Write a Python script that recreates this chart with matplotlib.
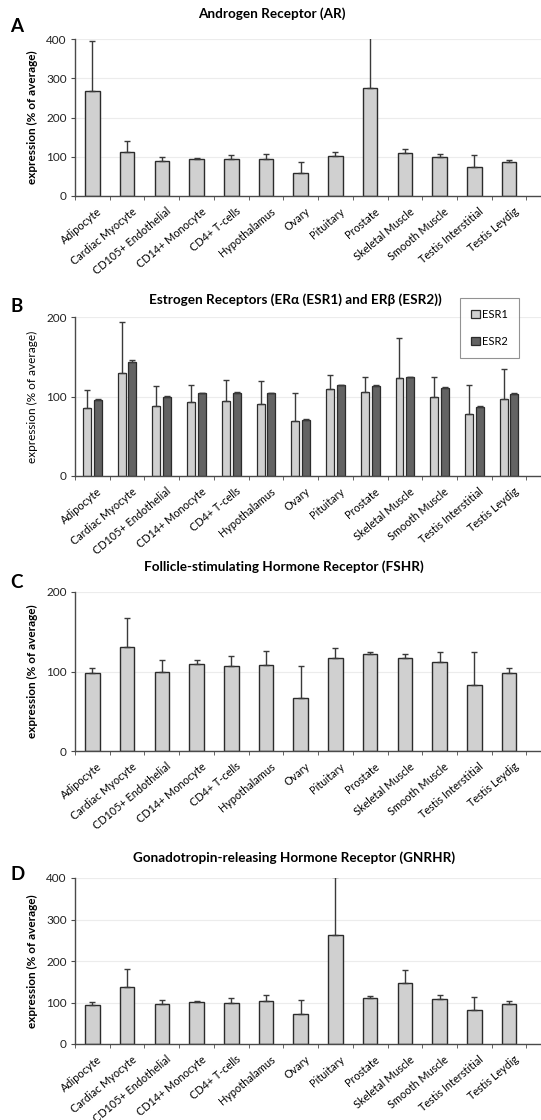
import numpy as np
import matplotlib
matplotlib.use('Agg')
import matplotlib.pyplot as plt

plt.rcParams['font.family'] = ['Lato', 'DejaVu Sans']

cells = ['Adipocyte', 'Cardiac Myocyte', 'CD105+ Endothelial', 'CD14+ Monocyte',
         'CD4+ T-cells', 'Hypothalamus', 'Ovary', 'Pituitary', 'Prostate',
         'Skeletal Muscle', 'Smooth Muscle', 'Testis Interstitial', 'Testis Leydig']

# A: androgen receptor
ar_mean = [267, 113, 88, 93, 93, 95, 59, 102, 276, 109, 99, 75, 87]
ar_err = [129, 26, 11, 4, 11, 13, 27, 11, 160, 12, 8, 29, 5]

# B: estrogen receptors
esr1_mean = [86, 130, 88, 93, 94, 91, 69, 109, 106, 123, 99, 78, 97]
esr1_err = [22, 64, 25, 22, 27, 29, 36, 18, 18, 51, 26, 36, 37]
esr2_mean = [96, 143, 100, 104, 105, 104, 71, 114, 113, 124, 111, 87, 103]
esr2_err = [1, 3, 1, 1, 1, 1, 1, 1, 1, 1, 1, 1, 1]

# C: FSHR
fshr_mean = [98, 131, 99, 109, 107, 108, 67, 117, 122, 117, 112, 83, 98]
fshr_err = [7, 36, 16, 6, 12, 18, 40, 13, 2, 5, 13, 42, 7]

# D: GNRHR
gnrhr_mean = [94, 138, 96, 101, 99, 103, 72, 262, 110, 146, 108, 82, 97]
gnrhr_err = [8, 43, 10, 2, 11, 14, 33, 140, 6, 33, 9, 32, 7]

LIGHT = '#d0d0d0'
DARK = '#636363'
EDGE = '#2b2b2b'
ECOL = '#3a3a3a'

W, H = 541, 1120
fig = plt.figure(figsize=(W / 100, H / 100), dpi=100)


def make_ax(top_px, bottom_px, ymax, step):
    left = 75 / W
    ax = fig.add_axes([left, 1 - bottom_px / H, 1 - left, (bottom_px - top_px) / H])
    x = np.arange(len(cells))
    ax.set_xlim(-0.5, 12.92)
    ax.set_ylim(0, ymax)
    ax.set_yticks(np.arange(0, ymax + 1, step))
    ax.yaxis.grid(True, color='#ececec', linewidth=0.8)
    ax.set_axisbelow(True)
    for s in ['top', 'right']:
        ax.spines[s].set_visible(False)
    for s in ['left', 'bottom']:
        ax.spines[s].set_color('#4a4a4a')
        ax.spines[s].set_linewidth(1.0)
    ax.set_xticks(x + 0.12)
    ax.set_xticklabels(cells, rotation=40, ha='right', rotation_mode='anchor', fontsize=7.8)
    ax.set_xticks(np.arange(-0.5, 13, 1), minor=True)
    ax.tick_params(axis='x', which='major', length=0, pad=7)
    ax.tick_params(axis='x', which='minor', length=3, color='#4a4a4a', direction='out')
    ax.tick_params(axis='y', length=3, color='#4a4a4a', labelsize=8.5, pad=3, labelcolor='#222222')
    return ax, x


def single(ax, x, mean, err):
    ax.bar(x, mean, width=0.42, color=LIGHT, edgecolor=EDGE, linewidth=1.0, zorder=2)
    ax.errorbar(x, mean, yerr=[np.zeros(len(mean)), err], fmt='none', ecolor=ECOL,
                elinewidth=1.0, capsize=2.5, capthick=1.0, zorder=3)


def ylabel(ax, bold=True):
    ax.set_ylabel('expression (% of average)', fontsize=8.5, fontweight='bold' if bold else 'normal')
    ax.yaxis.set_label_coords(-0.079, 0.5)


# A
ax, x = make_ax(39, 196, 400, 100)
single(ax, x, ar_mean, ar_err)
ylabel(ax)
fig.text(272 / W, 1 - 14 / H, 'Androgen Receptor (AR)', ha='center', va='center',
         fontsize=9.7, fontweight='bold')
fig.text(10 / W, 1 - 27 / H, 'A', fontsize=13.5, fontweight='bold', va='center')

# B
ax, x = make_ax(317, 476, 200, 100)
b1 = ax.bar(x - 0.155, esr1_mean, width=0.23, color=LIGHT, edgecolor=EDGE, linewidth=0.9,
            zorder=2, label='ESR1')
b2 = ax.bar(x + 0.155, esr2_mean, width=0.23, color=DARK, edgecolor=EDGE, linewidth=0.9,
            zorder=2, label='ESR2')
ax.errorbar(x - 0.155, esr1_mean, yerr=[np.zeros(13), esr1_err], fmt='none', ecolor=ECOL,
            elinewidth=1.0, capsize=2.2, capthick=1.0, zorder=3)
ax.errorbar(x + 0.155, esr2_mean, yerr=[np.zeros(13), esr2_err], fmt='none', ecolor=ECOL,
            elinewidth=1.0, capsize=2.2, capthick=1.0, zorder=3)
ylabel(ax, bold=False)
leg = ax.legend(handles=[b1, b2], loc='upper right', bbox_to_anchor=(519 / W, 1 - 298 / H),
                bbox_transform=fig.transFigure, fontsize=8, frameon=True, fancybox=False,
                handlelength=0.75, handleheight=0.75, handletextpad=0.2, labelspacing=1.4,
                borderpad=1.0, borderaxespad=0)
leg.get_frame().set_edgecolor('#777777')
leg.get_frame().set_linewidth(0.8)
fig.text(295 / W, 1 - 300 / H, 'Estrogen Receptors (ER\u03b1 (ESR1) and ER\u03b2 (ESR2))',
         ha='center', va='center', fontsize=9.7, fontweight='bold')
fig.text(10 / W, 1 - 307 / H, 'B', fontsize=13.5, fontweight='bold', va='center')

# C
ax, x = make_ax(592, 751, 200, 100)
single(ax, x, fshr_mean, fshr_err)
ylabel(ax)
fig.text(284 / W, 1 - 567 / H, 'Follicle-stimulating Hormone Receptor (FSHR)',
         ha='center', va='center', fontsize=9.7, fontweight='bold')
fig.text(10 / W, 1 - 583 / H, 'C', fontsize=13.5, fontweight='bold', va='center')

# D
ax, x = make_ax(878, 1044, 400, 100)
single(ax, x, gnrhr_mean, gnrhr_err)
ylabel(ax)
fig.text(294 / W, 1 - 858 / H, 'Gonadotropin-releasing Hormone Receptor (GNRHR)',
         ha='center', va='center', fontsize=9.7, fontweight='bold')
fig.text(10 / W, 1 - 875 / H, 'D', fontsize=13.5, fontweight='bold', va='center')

fig.savefig('out.png', dpi=100)
